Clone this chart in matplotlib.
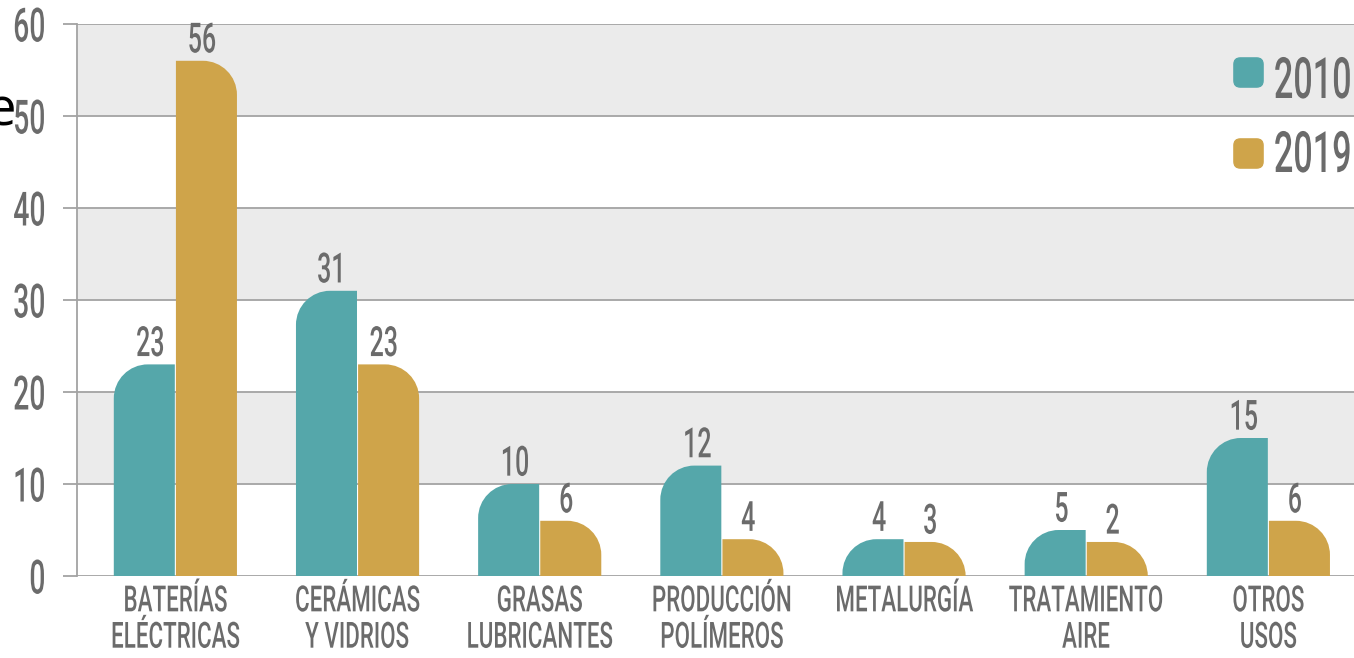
import numpy as np
import matplotlib
matplotlib.use('Agg')
import matplotlib.pyplot as plt
from matplotlib.path import Path
from matplotlib.patches import PathPatch, BoxStyle
from matplotlib.patheffects import AbstractPathEffect
from matplotlib.transforms import Affine2D
from matplotlib.lines import Line2D

# data
categories = ['BATERÍAS\nELÉCTRICAS', 'CERÁMICAS\nY VIDRIOS', 'GRASAS\nLUBRICANTES',
              'PRODUCCIÓN\nPOLÍMEROS', 'METALURGÍA', 'TRATAMIENTO\nAIRE', 'OTROS\nUSOS']
values_2010 = [23, 31, 10, 12, 4, 5, 15]
values_2019 = [56, 23, 6, 4, 3, 2, 6]
years = ['2010', '2019']
y_ticks = [0, 10, 20, 30, 40, 50, 60]

TEAL = '#55a7aa'
GOLD = '#cfa44a'
TXT = '#6b6b6b'
BAND = '#ebebeb'
LINE = '#a3a3a3'

W, H = 1354, 658
plt.rcParams['font.family'] = 'Roboto'
plt.rcParams['font.weight'] = 'medium'


class Narrow(AbstractPathEffect):
    """squeeze glyphs horizontally to fake a condensed face"""
    def __init__(self, sx=0.6, anchor='center'):
        super().__init__()
        self.sx = sx
        self.anchor = anchor

    def draw_path(self, renderer, gc, tpath, affine, rgbFace=None):
        ext = tpath.get_extents()
        if self.anchor == 'left':
            cx = ext.x0
        elif self.anchor == 'right':
            cx = ext.x1
        else:
            cx = (ext.x0 + ext.x1) / 2
        t = Affine2D().translate(-cx, 0).scale(self.sx, 1).translate(cx, 0) + affine
        renderer.draw_path(gc, tpath, t, rgbFace)


def rounded_bar(ax, x0, width, h, rx, ry, side, color):
    # bar never gets shorter than its corner radius
    h = max(h, ry)
    x1 = x0 + width
    k = 0.5523
    if side == 'left':
        verts = [(x1, 0), (x0, 0), (x0, h - ry),
                 (x0, h - ry + k * ry), (x0 + rx - k * rx, h), (x0 + rx, h),
                 (x1, h), (x1, 0)]
    else:
        verts = [(x0, 0), (x0, h), (x1 - rx, h),
                 (x1 - rx + k * rx, h), (x1, h - ry + k * ry), (x1, h - ry),
                 (x1, 0), (x0, 0)]
    codes = [Path.MOVETO, Path.LINETO, Path.LINETO, Path.CURVE4, Path.CURVE4,
             Path.CURVE4, Path.LINETO, Path.CLOSEPOLY]
    ax.add_patch(PathPatch(Path(verts, codes), facecolor=color, edgecolor='none', zorder=3))
    return h


fig = plt.figure(figsize=(W / 100, H / 100), dpi=100)
ax = fig.add_axes([77 / W, 1 - 576 / H, 1 - 77 / W, (576 - 24) / H])
ax.set_xlim(-0.54, 6.47)
ax.set_ylim(0, 60)

# alternating bands
for lo in (10, 30, 50):
    ax.axhspan(lo, lo + 10, color=BAND, zorder=0, lw=0)

ax.set_yticks(y_ticks)
ax.yaxis.grid(True, color=LINE, lw=1.3)
ax.set_axisbelow(True)
for s in ('top', 'right', 'bottom'):
    ax.spines[s].set_visible(False)
ax.spines['left'].set_color(LINE)
ax.spines['left'].set_linewidth(1.3)
ax.tick_params(axis='y', length=10, width=1.3, color=LINE, pad=12,
               labelsize=34, labelcolor=TXT)
ax.set_xticks(range(len(categories)), categories)
ax.tick_params(axis='x', length=0, pad=6, labelsize=26, labelcolor=TXT)
for t in ax.get_yticklabels():
    t.set_path_effects([Narrow(0.6, 'right')])
for t in ax.get_xticklabels():
    t.set_linespacing(1.05)
    t.set_path_effects([Narrow(0.62)])

bw = 0.335
rx, ry = 0.187, 3.7
x = np.arange(len(categories))
for i in x:
    h1 = rounded_bar(ax, i - bw - 0.003, bw, values_2010[i], rx, ry, 'left', TEAL)
    h2 = rounded_bar(ax, i + 0.003, bw, values_2019[i], rx, ry, 'right', GOLD)
    ax.annotate(str(values_2010[i]), (i - bw / 2, h1), xytext=(4, 6),
                textcoords='offset points', ha='center', va='baseline',
                fontsize=30, color=TXT, path_effects=[Narrow(0.6)])
    ax.annotate(str(values_2019[i]), (i + bw / 2, h2), xytext=(-3, 6),
                textcoords='offset points', ha='center', va='baseline',
                fontsize=30, color=TXT, path_effects=[Narrow(0.6)])

# legend drawn by hand
marker = BoxStyle.Round(pad=0, rounding_size=0.22)(-0.5, -0.5, 1, 1, 1.0)
for yr, col, sq_y, base_y in zip(years, [TEAL, GOLD], [72, 153], [98, 172]):
    fig.add_artist(Line2D([1247.5 / W], [1 - sq_y / H], marker=marker, ms=21,
                          color=col, ls='', transform=fig.transFigure))
    fig.text(1273 / W, 1 - base_y / H, yr, fontsize=41, color=TXT, ha='left',
             va='baseline', path_effects=[Narrow(0.6, 'left')])

# stray cropped letter at the left edge
fig.text(16 / W, 1 - 125 / H, 'e', fontsize=38, family='Open Sans', color='black',
         ha='right', va='baseline')

fig.savefig('out.png', dpi=100)
